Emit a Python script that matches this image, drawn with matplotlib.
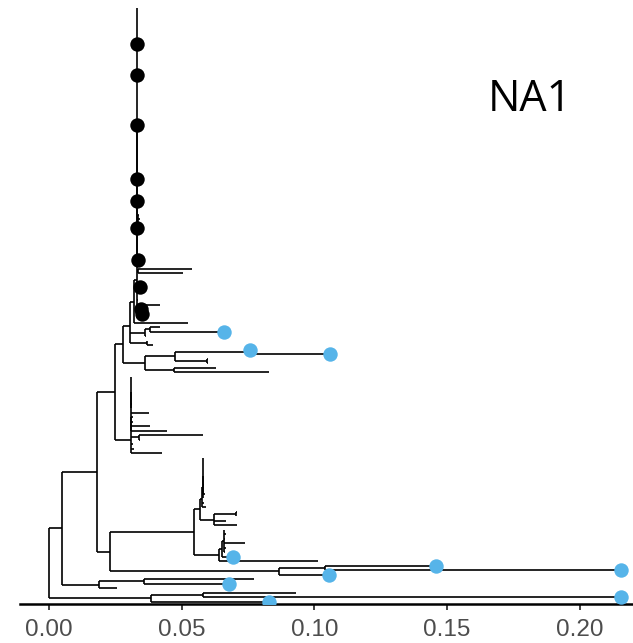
import matplotlib
matplotlib.use("Agg")
import matplotlib.pyplot as plt
from matplotlib.collections import LineCollection
import numpy as np

# internal nodes of the tree: name, parent, distance from root
inner_name = ['root', 'A', 'B', 'C', 'D0', 'D', 'E', 'K', 'L', 'L1',
              'M', 'N', 'N2', 'N3', 'O', 'P', 'P2', 'Q', 'Qt', 'Qt2',
              'F', 'R', 'R3a', 'R4', 'R6', 'G', 'S', 'N1', 'N1b', 'N1a',
              'T', 'U', 'V', 'W', 'W2', 'Y', 'Z', 'Z2', 'Zt', 'Z1']
inner_parent = [None, 'root', 'root', 'B', 'A', 'D0', 'A', 'E', 'K', 'L',
                'K', 'M', 'N', 'N2', 'M', 'O', 'P', 'O', 'Q', 'Qt',
                'E', 'F', 'R', 'R', 'R4', 'F', 'G', 'S', 'N1', 'N1',
                'S', 'G', 'U', 'U', 'W', 'U', 'Y', 'Z', 'Z', 'Zt']
inner_x = [0.0, 0.0049, 0.0385, 0.058, 0.0189, 0.0358, 0.018, 0.0228, 0.0865, 0.104,
           0.0545, 0.064, 0.0652, 0.0658, 0.057, 0.062, 0.0703, 0.0578, 0.0579, 0.0579,
           0.0249, 0.0308, 0.034, 0.0309, 0.0309, 0.028, 0.036, 0.0475, 0.0596, 0.0755,
           0.047, 0.0306, 0.0369, 0.0362, 0.038, 0.032, 0.0331, 0.0336, 0.0331, 0.0337]

# tips, listed from the bottom of the plot to the top
tip_parent = (['B', 'C', 'C'] + ['D0', 'D', 'D'] + ['L', 'L1', 'L1']
              + ['N', 'N2'] + ['N3'] * 6 + ['P', 'P', 'P2', 'P2']
              + ['Q', 'Q', 'Qt'] + ['Qt2'] * 9
              + ['R', 'R', 'R', 'R3a', 'R3a'] + ['R4'] * 5 + ['R6'] * 8
              + ['T', 'T', 'N1b', 'N1b', 'N1a', 'N1a']
              + ['V', 'V', 'W', 'W2', 'W2', 'Y']
              + ['Z'] * 10 + ['Z2', 'Z2', 'Z']
              + ['Zt'] * 8 + ['Z1'] * 3 + ['Zt'] * 46)
tip_x = [0.0830, 0.2155, 0.0930,
         0.0257, 0.0680, 0.0774,
         0.1055, 0.2155, 0.1460,
         0.1015, 0.0695, 0.0665, 0.0668, 0.0740, 0.0662, 0.0666, 0.0660,
         0.0710, 0.0668, 0.0705, 0.0707,
         0.0590, 0.0585, 0.0582, 0.0588, 0.0580, 0.0583, 0.0580, 0.0581, 0.0580, 0.0580, 0.0579, 0.0580,
         0.0425, 0.0320, 0.0316, 0.0342, 0.0582,
         0.0444, 0.0380, 0.0315, 0.0318, 0.0377,
         0.0310, 0.0312, 0.0309, 0.0309, 0.0310, 0.0309, 0.0309, 0.0309,
         0.0830, 0.0630, 0.0598, 0.0600, 0.1060, 0.0757,
         0.0392, 0.0370, 0.0365, 0.0660, 0.0420, 0.0523,
         0.0331, 0.0349, 0.0346, 0.0420, 0.0335, 0.0331, 0.0332, 0.0341, 0.0331, 0.0333,
         0.0504, 0.0538, 0.0331,
         0.0336, 0.0331, 0.0332, 0.0331, 0.0331, 0.0332, 0.0331, 0.0332,
         0.0340, 0.0342, 0.0340,
         0.0331, 0.0331, 0.0331, 0.0331, 0.0331, 0.0331, 0.0331, 0.0331, 0.0331, 0.0331,
         0.0331, 0.0331, 0.0331, 0.0331, 0.0331, 0.0331, 0.0331, 0.0331, 0.0331, 0.0331,
         0.0331, 0.0331, 0.0331, 0.0331, 0.0331, 0.0331, 0.0331, 0.0331, 0.0331, 0.0331,
         0.0331, 0.0331, 0.0331, 0.0331, 0.0331, 0.0331, 0.0331, 0.0331, 0.0331, 0.0331,
         0.0331, 0.0331, 0.0331, 0.0331, 0.0331, 0.0331]
blue_tips = [0, 1, 4, 6, 7, 8, 10, 55, 56, 60]
black_tips = [64, 65, 70, 76, 83, 89, 94, 106, 117, 124]

label = 'NA1'
x_ticks = [0.00, 0.05, 0.10, 0.15, 0.20]

assert len(tip_parent) == len(tip_x)

# ---- layout: tip y = order, node y = mean of its children
children = {n: [] for n in inner_name}
for i, p in enumerate(tip_parent):
    children[p].append(('tip', i))
for n, p in zip(inner_name, inner_parent):
    if p is not None:
        children[p].append(('node', n))
node_x = dict(zip(inner_name, inner_x))
node_y = {}

def get_y(kind, key):
    if kind == 'tip':
        return float(key)
    if key not in node_y:
        node_y[key] = np.mean([get_y(k, c) for k, c in children[key]])
    return node_y[key]

def get_x(kind, key):
    return tip_x[key] if kind == 'tip' else node_x[key]

segs = []
for n in inner_name:
    cy = [get_y(k, c) for k, c in children[n]]
    segs.append([(node_x[n], min(cy)), (node_x[n], max(cy))])
    for (k, c), y in zip(children[n], cy):
        segs.append([(node_x[n], y), (get_x(k, c), y)])

fig = plt.figure(figsize=(6.33, 6.43), dpi=100)
ax = fig.add_axes([20 / 633, 39 / 643, 613 / 633, 604 / 643])

ax.add_collection(LineCollection(segs, colors='black', linewidths=1.2, capstyle='butt'))

ax.scatter([tip_x[i] for i in blue_tips], blue_tips, s=108, color='#56B4E9',
           linewidths=0, zorder=3)
ax.scatter([tip_x[i] for i in black_tips], black_tips, s=108, color='black',
           linewidths=0, zorder=3)

ax.set_xlim(-0.01093, 0.22005)
ax.set_ylim(-0.51, 133.7)
ax.set_xticks(x_ticks, [f'{t:.2f}' for t in x_ticks])
ax.set_yticks([])
for s in ['top', 'left', 'right']:
    ax.spines[s].set_visible(False)
ax.spines['bottom'].set_linewidth(1.8)
ax.tick_params(axis='x', length=4.5, width=1.3, color='#333333', pad=6,
               labelsize=17.5, labelcolor='#4D4D4D')
for t in ax.get_xticklabels():
    t.set_fontfamily('Liberation Sans')
ax.set_facecolor('none')

fig.text(530 / 633, 1 - 100 / 643, label, ha='center', va='center',
         fontsize=31, family='Open Sans')

fig.savefig('out.png', dpi=100)
